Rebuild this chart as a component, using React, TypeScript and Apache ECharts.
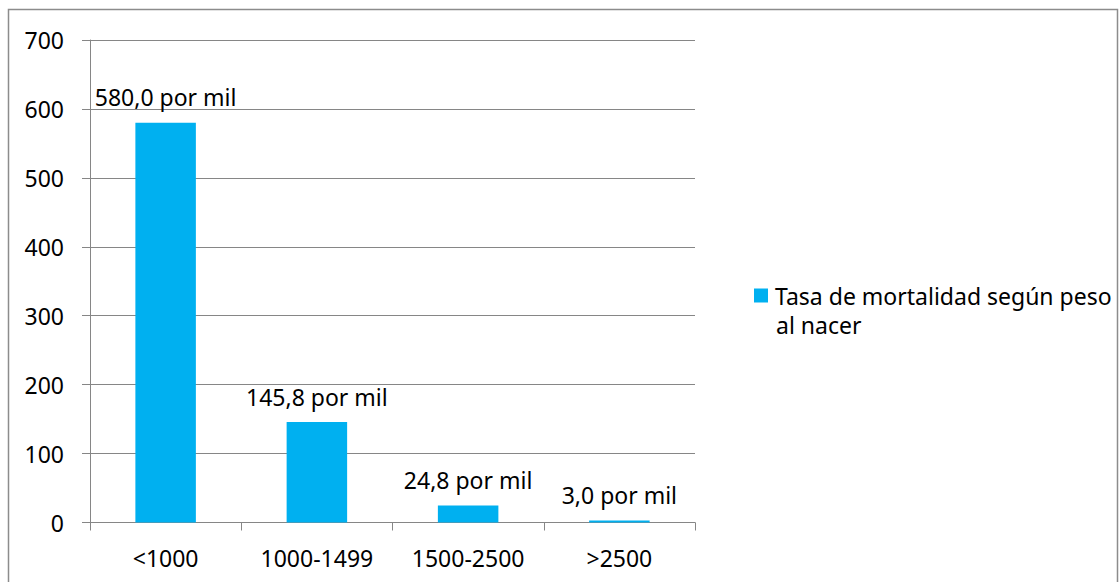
import React, { useEffect, useRef } from "react";
import * as echarts from "echarts";

const categories = ["<1000", "1000-1499", "1500-2500", ">2500"];
const mortalityValues = [580.0, 145.8, 24.8, 3.0];
const seriesName = "Tasa de mortalidad según peso al nacer";
const legendLine1 = "Tasa de mortalidad según peso";
const legendLine2 = "al nacer";
const yTicks = { min: 0, max: 700, interval: 100 };

const FONT = "Noto Sans";
const GRAY = "#868686";
const FS = 23;

export default function App() {
  const ref = useRef<HTMLDivElement>(null);
  useEffect(() => {
    if (!ref.current) return;
    const chart = echarts.init(ref.current, null, { renderer: "svg" });
    chart.setOption({
      animation: false,
      backgroundColor: "#ffffff",
      textStyle: { fontFamily: FONT },
      graphic: [
        {
          type: "rect",
          shape: { x: 8.5, y: 9.5, width: 1109, height: 620 },
          style: { fill: "none", stroke: "#8c8c8c", lineWidth: 1.5 },
          silent: true,
        },
        {
          type: "text",
          x: 776,
          y: 324.5,
          silent: true,
          style: {
            text: legendLine2,
            fill: "#000",
            font: `${FS}px "${FONT}"`,
            verticalAlign: "middle",
            align: "left",
          },
        },
      ],
      grid: { left: 90, right: 424, top: 40, bottom: 59.5 },
      legend: {
        data: [seriesName],
        left: 754,
        top: 281,
        padding: 0,
        icon: "rect",
        itemWidth: 14,
        itemHeight: 14,
        formatter: () => legendLine1,
        textStyle: {
          fontFamily: FONT,
          fontSize: FS,
          color: "#000",
          lineHeight: 29,
          padding: [0, 0, 0, 2],
        },
      },
      xAxis: {
        type: "category",
        data: categories,
        axisLine: { lineStyle: { color: GRAY, width: 1 } },
        axisTick: { show: true, length: 8, alignWithLabel: false, lineStyle: { color: GRAY } },
        axisLabel: { color: "#000", fontSize: FS, fontFamily: FONT, margin: 23.5 },
      },
      yAxis: {
        type: "value",
        min: yTicks.min,
        max: yTicks.max,
        interval: yTicks.interval,
        axisLine: { show: true, lineStyle: { color: GRAY, width: 1 } },
        axisTick: { show: true, length: 8, lineStyle: { color: GRAY } },
        splitLine: { lineStyle: { color: GRAY, width: 1 } },
        axisLabel: { color: "#000", fontSize: FS, fontFamily: FONT, margin: 26 },
      },
      series: [
        {
          name: seriesName,
          type: "bar",
          data: mortalityValues,
          barWidth: "40%",
          itemStyle: { color: "#00B0F0" },
          label: {
            show: true,
            position: "top",
            distance: 14,
            color: "#000",
            fontSize: FS,
            fontFamily: FONT,
            formatter: (p: any) => p.value.toFixed(1).replace(".", ",") + " por mil",
          },
        },
      ],
    });
    return () => chart.dispose();
  }, []);
  return (
    <div
      ref={ref}
      style={{ position: "absolute", left: 0, top: 0, width: 1119, height: 582 }}
    />
  );
}
